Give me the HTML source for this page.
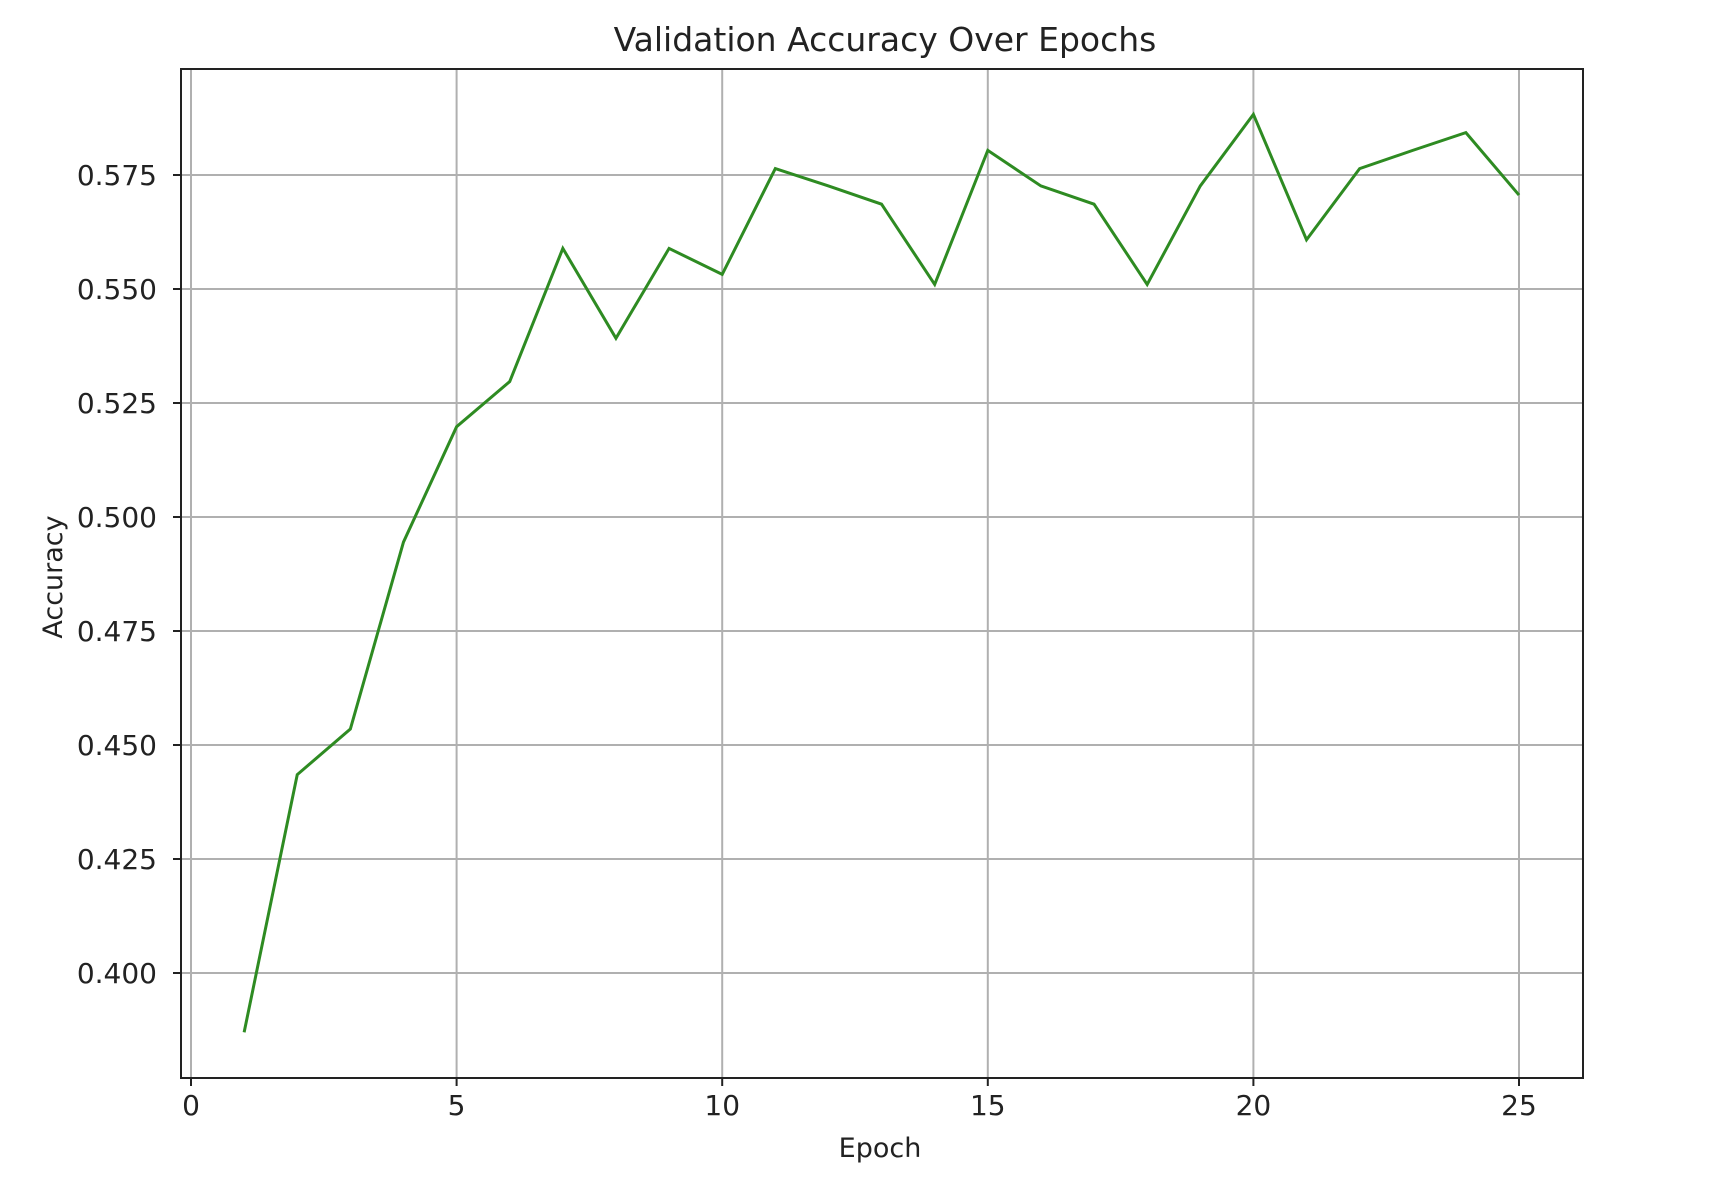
<!DOCTYPE html>
<html><head><meta charset="utf-8"><style>
body{margin:0;background:#fff;}
svg text{font-family:"DejaVu Sans","Liberation Sans",sans-serif;fill:#222;}
</style></head><body>
<svg id="chart" width="1718" height="1186" xmlns="http://www.w3.org/2000/svg">
<rect width="1718" height="1186" fill="#fff"/>
<g id="grid"></g>
<g id="ticks"></g>
<polyline id="line" fill="none" stroke="#2e8b22" stroke-width="3" stroke-linejoin="miter"/>
<rect x="181" y="69" width="1402" height="1009" fill="none" stroke="#222" stroke-width="2"/>
<text x="885" y="51" font-size="33" text-anchor="middle">Validation Accuracy Over Epochs</text>
<text x="880" y="1157" font-size="27" text-anchor="middle">Epoch</text>
<text transform="translate(62,577) rotate(-90)" font-size="27" text-anchor="middle">Accuracy</text>
</svg>
<script>
const epochs=[1,2,3,4,5,6,7,8,9,10,11,12,13,14,15,16,17,18,19,20,21,22,23,24,25];
const accuracy=[0.387,0.4435,0.4535,0.4945,0.5198,0.5297,0.5589,0.5392,0.5589,0.5532,0.5764,0.5726,0.5686,0.5510,0.5804,0.5726,0.5686,0.5510,0.5726,0.5883,0.5608,0.5764,0.5804,0.5843,0.5706];
const xTicks=[0,5,10,15,20,25];
const yTicks=[0.400,0.425,0.450,0.475,0.500,0.525,0.550,0.575];
const L=181,R=1583,T=69,B=1078;
function sx(v){return 191+(v-0)*(1519-191)/25;}
function sy(v){return 175+(0.575-v)*4560;}
const ns="http://www.w3.org/2000/svg";
const grid=document.getElementById('grid'),ticks=document.getElementById('ticks');
function mk(tag,attrs,parent){const e=document.createElementNS(ns,tag);for(const k in attrs)e.setAttribute(k,attrs[k]);parent.appendChild(e);return e;}
xTicks.forEach(v=>{
 const x=sx(v);
 const g=mk('line',{x1:x,x2:x,y1:T,y2:B,stroke:'#b0b0b0','stroke-width':2},grid);
 
 
 const t=mk('line',{x1:x,x2:x,y1:B,y2:B+8,stroke:'#222','stroke-width':2},ticks);
 
 
 const l=mk('text',{x:x,y:B+37,'font-size':28,'text-anchor':'middle'},ticks);
 l.textContent=v;
 
 
});
yTicks.forEach(v=>{
 const y=sy(v);
 const g=mk('line',{x1:L,x2:R,y1:y,y2:y,stroke:'#b0b0b0','stroke-width':2},grid);
 
 
 const t=mk('line',{x1:L-8,x2:L,y1:y,y2:y,stroke:'#222','stroke-width':2},ticks);
 
 
 const l=mk('text',{x:L-24,y:y+10,'font-size':28,'text-anchor':'end'},ticks);
 l.textContent=v.toFixed(3);
 
 
});
document.getElementById('line').setAttribute('points',epochs.map((e,i)=>sx(e)+','+sy(accuracy[i])).join(' '));
</script>
</body></html>
